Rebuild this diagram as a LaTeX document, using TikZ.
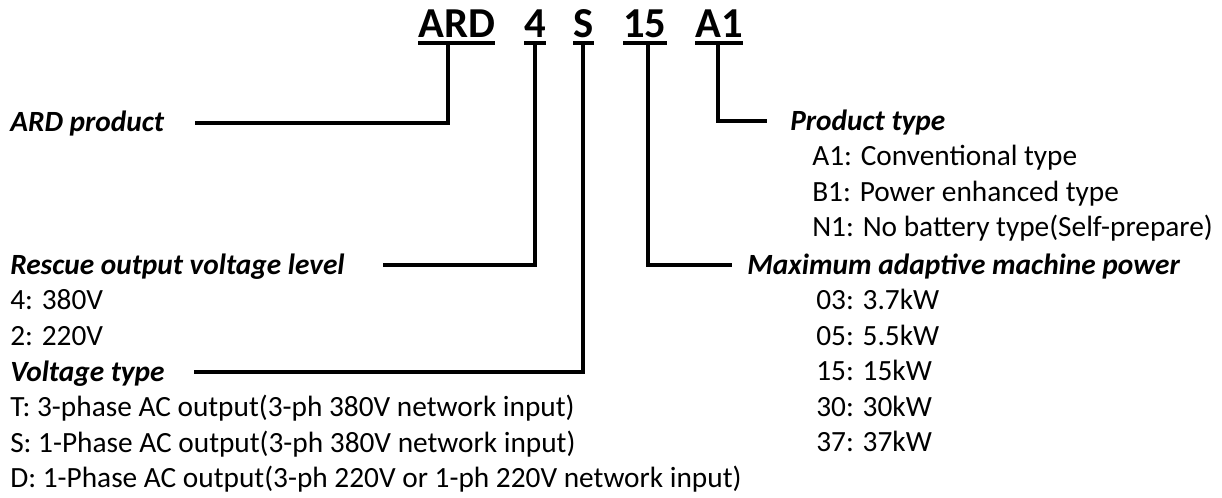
\documentclass[tikz,border=0pt]{standalone}
\usepackage{fontspec}
\setmainfont{Carlito}
\begin{document}
\begin{tikzpicture}[x=0.75pt,y=-0.75pt,
  code/.style={inner sep=0pt,anchor=base west,font=\fontsize{32}{38}\selectfont\bfseries},
  lab/.style={inner sep=0pt,anchor=base west,font=\fontsize{22}{26}\selectfont\bfseries\itshape},
  item/.style={inner sep=0pt,anchor=base west,font=\fontsize{22}{26}\selectfont},
  conn/.style={line width=2.4pt},
  uline/.style={line width=2.4pt}]
\useasboundingbox (0,0) rectangle (1222,497);
% code letters
\node[code] (cARD) at (418,37) {ARD};
\node[code] (c4) at (524,37) {4};
\node[code] (cS) at (573,37) {S};
\node[code] (c15) at (623,37) {15};
\node[code] (cA1) at (695,37) {A1};
\foreach \n in {cARD,c4,cS,c15,cA1}{
  \draw[uline] (\n.west |- 0,43) -- (\n.east |- 0,43);
}
% labels
\node[lab] (lARD) at (10,131) {ARD product};
\node[lab] (lPT) at (790,130) {Product type};
\node[item] (a1) at (812,165.5) {A1: Conventional type};
\node[item] (b1) at (812,201) {B1: Power enhanced type};
\node[item] (n1) at (812,236.5) {N1: No battery type(Self-prepare)};
\node[lab] (lRV) at (10,274) {Rescue output voltage level};
\node[item] (v4) at (10,309.5) {4: 380V};
\node[item] (v2) at (10,345) {2: 220V};
\node[lab] (lVT) at (10,381) {Voltage type};
\node[item] (tT) at (10,416.5) {T: 3-phase AC output(3-ph 380V network input)};
\node[item] (tS) at (10,452) {S: 1-Phase AC output(3-ph 380V network input)};
\node[item] (tD) at (10,487.5) {D: 1-Phase AC output(3-ph 220V or 1-ph 220V network input)};
\node[lab] (lMP) at (747,274) {Maximum adaptive machine power};
\node[item] (p03) at (816,309.5) {03: 3.7kW};
\node[item] (p05) at (816,345) {05: 5.5kW};
\node[item] (p15) at (816,380.5) {15: 15kW};
\node[item] (p30) at (816,416) {30: 30kW};
\node[item] (p37) at (816,451.5) {37: 37kW};
% connector ends
\coordinate (uARD) at (448,43);
\coordinate (u4) at (535,43);
\coordinate (uS) at (583,43);
\coordinate (u15) at (648,43);
\coordinate (uA1) at (718,43);
\coordinate (eARD) at (195,123);
\coordinate (e4) at (383,265);
\coordinate (eS) at (194,372);
\coordinate (e15) at (732,265);
\coordinate (eA1) at (767,121);
\draw[conn] (uARD) |- (eARD);
\draw[conn] (u4) |- (e4);
\draw[conn] (uS) |- (eS);
\draw[conn] (u15) |- (e15);
\draw[conn] (uA1) |- (eA1);
\end{tikzpicture}
\end{document}
